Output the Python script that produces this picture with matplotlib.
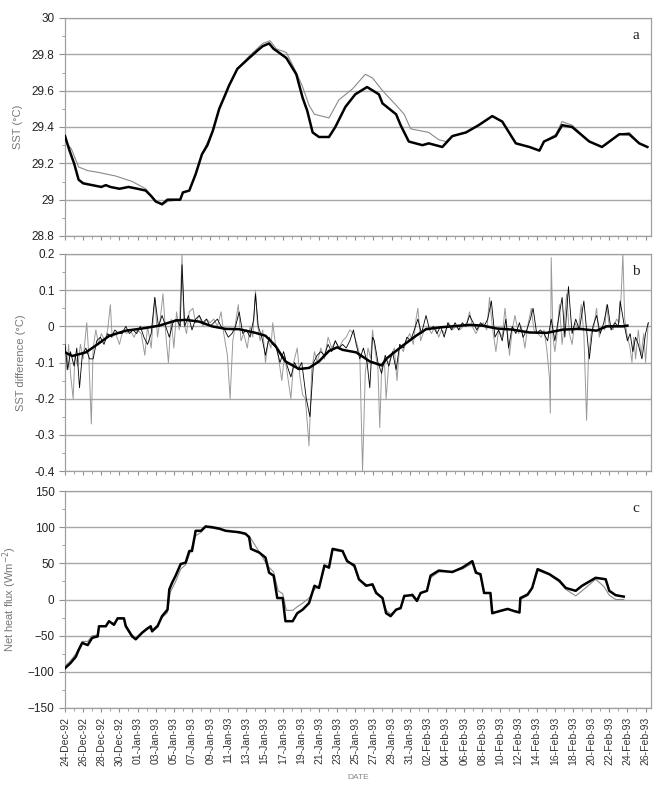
import numpy as np
import pandas as pd
import matplotlib
matplotlib.use("Agg")
import matplotlib.pyplot as plt
import matplotlib.dates as mdates
from matplotlib.ticker import MultipleLocator, FixedLocator

plt.rcParams['font.family'] = ['Liberation Sans', 'DejaVu Sans']

start = pd.Timestamp('1992-12-24')

# panel a - SST, thick and thin series (days after 24-Dec-92)
sst_thick_days = [0, 0.5, 1.0, 1.5, 2.0, 3.0, 4.0, 4.5, 5.0, 6.0, 7.0, 8.0, 8.9, 9.5, 10.0, 10.7,
                  11.3, 12.0, 12.7, 13.0, 13.7, 14.4, 15.1, 15.7, 16.3, 17.0, 17.6, 18.1, 19.0,
                  20.3, 21.2, 21.8, 22.5, 23.0, 23.3, 24.4, 25.5, 26.2, 26.7, 27.3, 28.0, 29.1,
                  29.8, 30.9, 32.0, 33.3, 34.6, 35.0, 36.5, 37.0, 37.9, 39.4, 40.1, 41.6, 42.7,
                  44.2, 45.6, 47.1, 48.2, 49.7, 51.2, 52.3, 52.8, 54.1, 54.8, 55.9, 57.8, 59.2,
                  61.1, 62.2, 63.3, 64.2]
sst_thick = [29.35, 29.27, 29.20, 29.11, 29.09, 29.08, 29.07, 29.08, 29.07, 29.06, 29.07, 29.06,
             29.05, 29.02, 28.99, 28.975, 29.00, 29.00, 29.00, 29.04, 29.05, 29.14, 29.25, 29.30,
             29.38, 29.50, 29.57, 29.63, 29.72, 29.78, 29.82, 29.845, 29.86, 29.83, 29.82, 29.78,
             29.69, 29.56, 29.49, 29.37, 29.345, 29.345, 29.40, 29.51, 29.58, 29.62, 29.58, 29.53,
             29.47, 29.41, 29.32, 29.30, 29.31, 29.29, 29.35, 29.37, 29.41, 29.46, 29.43, 29.31,
             29.29, 29.27, 29.32, 29.35, 29.41, 29.40, 29.32, 29.29, 29.36, 29.36, 29.31, 29.29]
sst_thin_days = [0, 0.7, 1.5, 2.5, 3.7, 5.6, 7.4, 8.9, 9.5, 10.0, 10.7, 11.3, 12.7, 13.0, 13.7,
                 14.4, 15.1, 16.3, 17.0, 18.1, 19.0, 20.3, 21.8, 22.6, 23.3, 24.4, 25.5, 26.2,
                 26.9, 27.5, 29.1, 30.2, 31.7, 33.1, 33.9, 35.0, 36.5, 37.4, 38.1, 40.1, 41.2,
                 42.0, 42.7, 44.2, 45.6, 47.1, 48.2, 49.7, 51.2, 52.3, 52.8, 54.1, 54.8, 55.9,
                 57.8, 59.2, 61.1, 62.2, 63.3, 64.2]
sst_thin = [29.32, 29.28, 29.18, 29.16, 29.15, 29.13, 29.10, 29.06, 29.02, 28.99, 28.97, 28.99,
            29.00, 29.04, 29.05, 29.14, 29.25, 29.38, 29.50, 29.63, 29.72, 29.79, 29.86, 29.875,
            29.83, 29.81, 29.70, 29.62, 29.52, 29.47, 29.45, 29.55, 29.61, 29.69, 29.67, 29.60,
            29.52, 29.47, 29.39, 29.37, 29.33, 29.32, 29.35, 29.37, 29.41, 29.46, 29.43, 29.31,
            29.29, 29.27, 29.32, 29.36, 29.43, 29.41, 29.32, 29.29, 29.36, 29.37, 29.31, 29.29]

# panel b - SST difference: raw (grey), raw (black) and smoothed
diff_grey_days = [0.0, 0.2, 0.4, 0.6, 0.9, 1.1, 1.4, 1.7, 2.0, 2.4, 2.6, 2.9, 3.1, 3.4, 3.7, 4.0,
                  4.4, 4.7, 5.0, 5.2, 5.6, 6.0, 6.4, 6.8, 7.2, 7.6, 8.0, 8.4, 8.8, 9.1, 9.5, 9.9,
                  10.2, 10.5, 10.8, 11.1, 11.4, 11.7, 12.0, 12.3, 12.6, 12.9, 13.1, 13.4, 13.7,
                  14.1, 14.4, 14.8, 15.2, 15.6, 16.0, 16.4, 16.8, 17.2, 17.5, 17.9, 18.2, 18.5,
                  18.8, 19.1, 19.4, 19.7, 20.1, 20.4, 20.7, 21.0, 21.2, 21.5, 21.8, 22.1, 22.4,
                  22.7, 22.9, 23.2, 23.5, 23.9, 24.2, 24.5, 24.9, 25.2, 25.6, 25.9, 26.2, 26.5,
                  26.9, 27.2, 27.5, 27.8, 28.2, 28.6, 29.0, 29.4, 29.8, 30.2, 30.6, 31.0, 31.4,
                  31.8, 32.2, 32.5, 32.8, 33.1, 33.4, 33.7, 33.9, 34.2, 34.5, 34.7, 34.9, 35.2,
                  35.4, 35.7, 36.0, 36.3, 36.6, 36.9, 37.3, 37.6, 38.0, 38.4, 38.7, 38.9, 39.2,
                  39.6, 40.0, 40.4, 40.8, 41.2, 41.5, 41.9, 42.3, 42.7, 43.1, 43.5, 43.9, 44.3,
                  44.6, 44.9, 45.3, 45.7, 46.1, 46.5, 46.8, 47.1, 47.5, 47.8, 48.2, 48.5, 48.8,
                  49.0, 49.3, 49.6, 50.0, 50.3, 50.7, 51.0, 51.4, 51.7, 52.1, 52.5, 52.8, 53.1,
                  53.4, 53.5, 53.6, 53.8, 54.0, 54.3, 54.5, 54.8, 55.0, 55.3, 55.6, 55.9, 56.2,
                  56.6, 56.9, 57.2, 57.5, 57.7, 58.0, 58.3, 58.6, 58.9, 59.2, 59.5, 59.7, 60.0,
                  60.4, 60.8, 61.1, 61.3, 61.5, 61.7, 62.0, 62.3, 62.5, 62.7, 62.9, 63.2, 63.5,
                  63.8, 64.0, 64.3]
diff_grey = [-0.03, -0.12, -0.05, -0.13, -0.20, -0.08, -0.11, -0.05, -0.09, 0.01, -0.07, -0.27,
             -0.06, -0.01, -0.05, -0.02, -0.04, -0.01, 0.06, -0.03, -0.02, -0.05, -0.01, -0.02,
             -0.01, -0.03, -0.01, -0.02, -0.08, 0.00, -0.06, 0.08, -0.03, 0.02, 0.09, -0.02,
             -0.10, 0.02, -0.06, 0.04, -0.01, 0.20, 0.01, -0.02, 0.04, 0.05, 0.01, 0.03, 0.00,
             0.02, 0.01, 0.02, 0.00, 0.04, -0.02, -0.08, -0.20, -0.04, 0.01, 0.06, -0.04, -0.02,
             -0.06, 0.00, -0.03, 0.10, 0.01, -0.04, -0.01, -0.10, -0.04, -0.06, 0.01, -0.05,
             -0.08, -0.15, -0.08, -0.13, -0.20, -0.10, -0.06, -0.14, -0.19, -0.20, -0.33, -0.12,
             -0.07, -0.10, -0.06, -0.09, -0.03, -0.06, -0.04, -0.06, -0.04, -0.03, -0.01, -0.02,
             -0.05, -0.08, -0.40, -0.13, -0.06, -0.09, -0.01, -0.07, -0.12, -0.28, -0.12, -0.09,
             -0.20, -0.10, -0.08, -0.06, -0.15, -0.05, -0.07, -0.04, -0.02, -0.05, 0.02, 0.05,
             -0.04, -0.01, 0.00, -0.02, 0.00, -0.03, -0.01, -0.02, 0.01, -0.01, 0.00, -0.01,
             0.00, 0.01, 0.04, 0.00, -0.02, 0.00, 0.01, -0.01, 0.08, 0.00, -0.07, -0.01, -0.03,
             0.05, -0.02, -0.08, -0.01, 0.03, -0.02, 0.00, -0.06, 0.00, 0.05, -0.01, -0.02,
             -0.03, -0.01, -0.06, -0.14, -0.24, 0.19, -0.03, -0.07, -0.01, 0.06, -0.05, 0.00,
             0.09, -0.02, -0.05, 0.01, -0.01, 0.06, -0.02, -0.26, -0.09, -0.02, 0.00, 0.05,
             -0.03, 0.00, -0.01, 0.06, 0.00, -0.01, 0.02, 0.01, 0.08, 0.20, 0.02, -0.03, -0.06,
             -0.10, -0.03, -0.09, -0.01, -0.08, -0.02, -0.10, 0.01]
diff_black_days = [0.0, 0.3, 0.6, 1.0, 1.3, 1.6, 1.9, 2.3, 2.7, 3.1, 3.5, 3.9, 4.3, 4.7, 5.1, 5.5,
                   5.9, 6.3, 6.7, 7.1, 7.5, 7.9, 8.3, 8.7, 9.1, 9.5, 9.9, 10.3, 10.7, 11.1, 11.5,
                   11.9, 12.3, 12.7, 12.9, 13.2, 13.6, 14.0, 14.4, 14.8, 15.2, 15.6, 16.0, 16.4,
                   16.8, 17.2, 17.6, 18.0, 18.4, 18.8, 19.2, 19.6, 20.0, 20.4, 20.8, 21.0, 21.3,
                   21.7, 22.1, 22.5, 22.9, 23.3, 23.7, 24.1, 24.5, 24.9, 25.3, 25.7, 26.1, 26.6,
                   27.0, 27.4, 27.8, 28.2, 28.6, 29.0, 29.4, 29.8, 30.2, 30.6, 31.0, 31.4, 31.8,
                   32.1, 32.5, 32.9, 33.3, 33.6, 33.9, 34.1, 34.5, 34.9, 35.3, 35.7, 36.1, 36.5,
                   36.9, 37.3, 37.7, 38.1, 38.5, 38.9, 39.3, 39.8, 40.2, 40.6, 41.0, 41.4, 41.8,
                   42.2, 42.6, 43.0, 43.4, 43.8, 44.2, 44.6, 45.0, 45.4, 45.8, 46.2, 46.6, 47.0,
                   47.4, 47.8, 48.2, 48.6, 48.9, 49.3, 49.7, 50.1, 50.5, 50.9, 51.3, 51.6, 52.0,
                   52.4, 52.8, 53.2, 53.6, 54.0, 54.4, 54.8, 55.1, 55.5, 55.9, 56.3, 56.7, 57.2,
                   57.5, 57.8, 58.2, 58.6, 59.0, 59.4, 59.8, 60.2, 60.6, 61.0, 61.2, 61.6, 62.0,
                   62.3, 62.6, 62.9, 63.2, 63.6, 64.0, 64.3]
diff_black = [-0.05, -0.12, -0.07, -0.11, -0.06, -0.17, -0.08, -0.06, -0.09, -0.09, -0.04, -0.03,
              -0.05, -0.02, -0.03, -0.01, -0.02, -0.02, 0.00, -0.02, -0.01, -0.02, 0.00, -0.03,
              -0.05, -0.02, 0.08, 0.00, 0.03, 0.00, -0.03, 0.01, 0.02, 0.00, 0.17, 0.00, 0.03,
              -0.01, 0.02, 0.03, 0.01, 0.02, 0.00, 0.01, 0.02, 0.00, -0.01, -0.03, -0.02, 0.00,
              0.04, -0.02, -0.01, -0.03, 0.02, 0.09, 0.00, -0.03, -0.08, -0.03, -0.05, -0.06,
              -0.10, -0.07, -0.11, -0.14, -0.10, -0.12, -0.10, -0.20, -0.25, -0.10, -0.08, -0.07,
              -0.08, -0.05, -0.07, -0.04, -0.06, -0.05, -0.06, -0.04, -0.01, -0.05, -0.09, -0.06,
              -0.10, -0.17, -0.03, -0.04, -0.10, -0.13, -0.08, -0.11, -0.07, -0.12, -0.05, -0.06,
              -0.03, -0.04, -0.01, 0.02, -0.02, 0.03, -0.01, 0.00, -0.02, 0.00, -0.03, 0.01,
              -0.01, 0.01, -0.01, 0.01, 0.00, 0.03, 0.01, -0.01, 0.01, 0.00, 0.02, 0.07, -0.03,
              -0.01, -0.04, 0.02, -0.06, 0.00, -0.02, 0.01, -0.03, -0.01, 0.02, 0.05, -0.02,
              -0.01, -0.02, -0.04, 0.02, -0.04, 0.02, 0.08, -0.03, 0.11, -0.02, 0.02, -0.01, 0.07,
              -0.01, -0.09, 0.00, 0.03, -0.02, 0.01, 0.06, -0.01, 0.01, 0.00, 0.07, 0.01, -0.04,
              -0.02, -0.07, -0.03, -0.05, -0.09, -0.02, 0.01]
diff_smooth_days = [0, 0.8, 2.3, 3.4, 4.9, 6.7, 8.5, 10.4, 12.2, 13.3, 14.8, 16.2, 17.7, 19.2,
                    21.0, 22.1, 23.2, 24.3, 25.8, 26.9, 28.0, 29.1, 30.0, 30.6, 32.1, 33.6, 34.9,
                    35.5, 37.2, 38.7, 39.8, 41.3, 42.7, 44.6, 46.0, 47.6, 49.3, 51.2, 53.1, 54.9,
                    56.7, 58.6, 59.7, 61.5, 62.0]
diff_smooth = [-0.072, -0.082, -0.072, -0.053, -0.026, -0.012, -0.006, 0.002, 0.016, 0.018,
               0.013, 0.0, -0.007, -0.008, -0.018, -0.026, -0.054, -0.097, -0.118, -0.115,
               -0.097, -0.068, -0.058, -0.065, -0.072, -0.097, -0.108, -0.088, -0.054, -0.026,
               -0.008, -0.003, 0.0, 0.004, 0.002, -0.006, -0.009, -0.017, -0.018, -0.009, -0.007,
               -0.012, 0.0, 0.0, 0.002]

# panel c - net heat flux
flux_thick_days = [0, 0.6, 1.2, 1.5, 1.9, 2.5, 3.0, 3.6, 3.75, 4.5, 4.85, 5.4, 5.8, 6.5, 6.7,
                   7.4, 7.8, 8.5, 9.1, 9.45, 9.6, 10.2, 10.7, 11.3, 11.5, 11.8, 12.2, 12.75, 13.3,
                   13.7, 14.0, 14.4, 15.0, 15.5, 16.2, 17.0, 17.7, 19.2, 19.9, 20.3, 20.5, 21.4,
                   22.1, 22.5, 23.0, 23.4, 24.0, 24.3, 25.1, 25.6, 26.2, 26.9, 27.5, 28.0, 28.6,
                   29.1, 29.5, 30.6, 31.1, 31.9, 32.4, 33.2, 33.9, 34.3, 35.0, 35.4, 35.9, 36.5,
                   37.0, 37.4, 38.3, 38.8, 39.2, 39.9, 40.3, 41.2, 42.7, 43.8, 44.9, 45.3, 45.8,
                   46.2, 46.9, 47.1, 47.9, 48.8, 49.5, 50.1, 50.2, 51.0, 51.5, 52.1, 53.4, 54.5,
                   55.2, 56.3, 57.0, 58.5, 59.6, 60.0, 60.7, 61.6]
flux_thick = [-95, -88, -79, -70, -60, -63, -53, -51, -37, -37, -30, -35, -26, -26, -37, -51,
              -55, -46, -40, -37, -44, -37, -23, -14, 14, 23, 33, 49, 51, 67, 67, 95, 95, 101,
              100, 98, 95, 93, 91, 86, 70, 65, 58, 37, 33, 2, 2, -30, -30, -19, -14, -5, 19, 16,
              47, 44, 70, 67, 53, 47, 28, 19, 21, 9, 2, -19, -23, -14, -12, 5, 6, -2, 9, 12, 33,
              40, 38, 44, 53, 37, 35, 9, 9, -19, -16, -13, -16, -18, 2, 7, 16, 42, 35, 26, 16,
              12, 19, 30, 28, 12, 6, 4]
flux_thin_days = [0, 0.6, 1.2, 1.9, 2.5, 3.0, 3.6, 3.75, 4.5, 4.85, 5.4, 5.8, 6.5, 6.7, 7.4,
                  7.8, 8.5, 9.1, 9.6, 10.2, 10.7, 11.3, 11.6, 12.2, 12.75, 13.3, 13.7, 14.4,
                  15.0, 15.5, 17.0, 19.2, 20.3, 20.8, 21.6, 22.3, 23.0, 23.5, 24.0, 24.4, 25.1,
                  25.6, 26.2, 26.9, 27.5, 28.0, 28.6, 29.1, 29.5, 30.6, 31.1, 31.9, 32.4, 33.2,
                  33.9, 34.3, 35.0, 35.4, 35.9, 36.5, 37.0, 37.4, 38.3, 38.8, 39.2, 39.9, 40.3,
                  41.2, 42.7, 43.8, 44.9, 45.3, 45.8, 46.2, 46.9, 47.1, 47.9, 48.8, 49.5, 50.1,
                  50.2, 51.0, 51.5, 52.1, 53.4, 54.5, 55.2, 56.3, 57.0, 58.5, 59.4, 60.0, 60.7,
                  61.6]
flux_thin = [-92, -85, -75, -58, -58, -50, -49, -37, -36, -31, -33, -27, -27, -35, -49, -53, -45,
             -39, -42, -35, -25, -18, 10, 25, 42, 48, 62, 88, 93, 100, 97, 92, 88, 78, 62, 47, 38,
             12, 8, -15, -15, -10, -5, 2, 14, 18, 44, 47, 68, 66, 55, 44, 27, 21, 19, 11, 2, -15,
             -20, -15, -10, 3, 8, 0, 8, 12, 30, 38, 39, 42, 50, 40, 32, 10, 8, -17, -17, -14,
             -15, -17, 0, 5, 15, 40, 34, 24, 14, 5, 12, 28, 18, 6, 0, 0]

tick_dates = pd.date_range('1992-12-24', '1993-02-26', freq='2D')


def to_dates(days):
    return start + pd.to_timedelta(np.array(days), unit='D')


fig = plt.figure(figsize=(6.58, 7.93), dpi=100)
left, width = 65 / 658, 586 / 658
ax_a = fig.add_axes([left, 1 - 236 / 793, width, 218 / 793])
ax_b = fig.add_axes([left, 1 - 471 / 793, width, 217 / 793])
ax_c = fig.add_axes([left, 1 - 708 / 793, width, 217 / 793])

ax_a.plot(to_dates(sst_thin_days), sst_thin, color='#8a8a8a', lw=0.8, zorder=3)
ax_a.plot(to_dates(sst_thick_days), sst_thick, color='black', lw=1.8, zorder=4)

ax_b.plot(to_dates(diff_grey_days), diff_grey, color='#9a9a9a', lw=0.7, zorder=3)
ax_b.plot(to_dates(diff_black_days), diff_black, color='black', lw=0.6, zorder=3)
ax_b.plot(to_dates(diff_smooth_days), diff_smooth, color='black', lw=1.8, zorder=4)

ax_c.plot(to_dates(flux_thin_days), flux_thin, color='#8a8a8a', lw=0.8, zorder=3)
ax_c.plot(to_dates(flux_thick_days), flux_thick, color='black', lw=1.8, zorder=4)

settings = [
    (ax_a, 28.8, 30.0, 0.2, 0.1, 'SST (\u00b0C)', 'a'),
    (ax_b, -0.4, 0.2, 0.1, 0.05, 'SST difference (\u00b0C)', 'b'),
    (ax_c, -150, 150, 50, 25, 'Net heat flux (Wm$^{-2}$)', 'c'),
]
for ax, lo, hi, major, minor, ylab, tag in settings:
    ax.set_ylim(lo, hi)
    ax.set_xlim(start, start + pd.Timedelta(days=64.6))
    ax.yaxis.set_major_locator(MultipleLocator(major))
    ax.yaxis.set_minor_locator(MultipleLocator(minor))
    ax.xaxis.set_major_locator(FixedLocator(mdates.date2num(tick_dates)))
    ax.xaxis.set_minor_locator(mdates.DayLocator())
    ax.grid(axis='y', which='major', color='#a8a8a8', lw=1.0, zorder=1)
    for sp in ax.spines.values():
        sp.set_color('#a0a0a0')
        sp.set_linewidth(0.9)
    ax.tick_params(axis='both', which='both', colors='#909090', direction='out')
    ax.tick_params(axis='y', which='major', length=4, labelsize=8.5, labelcolor='#222222')
    ax.tick_params(axis='y', which='minor', length=2.5)
    ax.tick_params(axis='x', which='major', length=3)
    ax.tick_params(axis='x', which='minor', length=2)
    ax.set_ylabel(ylab, fontsize=8, color='#777777', labelpad=6)
    ax.text(0.974, 0.92, tag, transform=ax.transAxes, fontsize=11,
            family='Liberation Serif', ha='center', va='center', color='#222222')

ax_a.yaxis.set_major_formatter(plt.FuncFormatter(lambda v, p: f'{v:g}'))
ax_b.yaxis.set_major_formatter(plt.FuncFormatter(lambda v, p: f'{round(v, 2):g}'))
for ax in (ax_a, ax_b):
    ax.tick_params(axis='x', labelbottom=False)

ax_c.xaxis.set_major_formatter(mdates.DateFormatter('%d-%b-%y'))
ax_c.tick_params(axis='x', which='major', labelsize=7.5, labelcolor='#333333', labelrotation=90)
ax_c.set_xlabel('DATE', fontsize=6, color='#888888', labelpad=6)

fig.savefig('out.png', dpi=100)
